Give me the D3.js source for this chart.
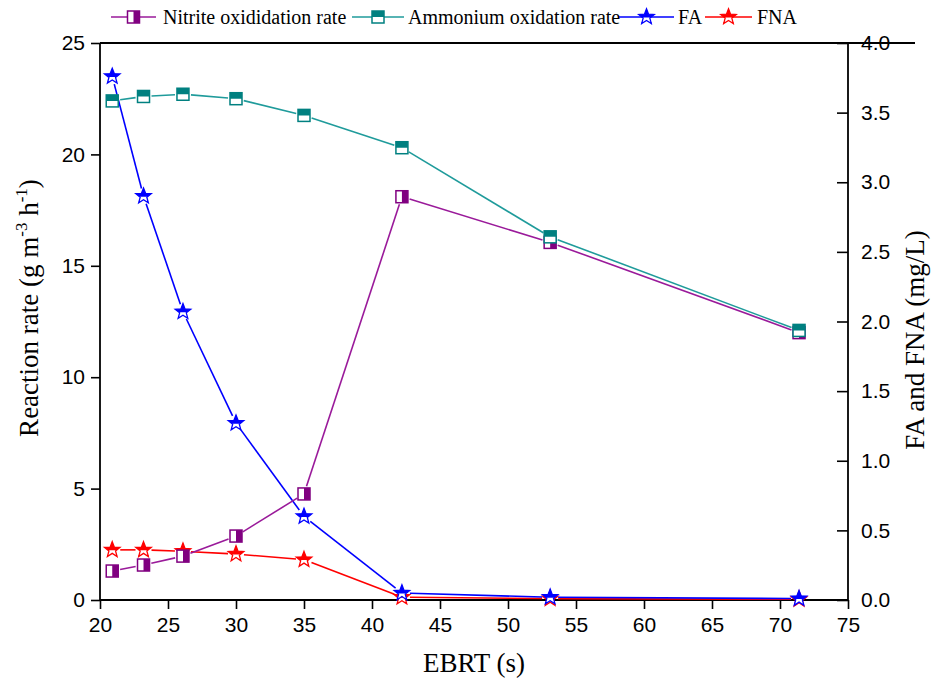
<!DOCTYPE html>
<html>
<head>
<meta charset="utf-8">
<script src="https://cdn.jsdelivr.net/npm/d3@7"></script>
<style>
  html, body { margin: 0; padding: 0; background: #fff; }
  svg { display: block; }
  .tick text { font-family: "Liberation Sans", Arial, sans-serif; font-size: 21px; fill: #000; }
  .serif { font-family: "Liberation Serif", "Times New Roman", serif; fill: #000; }
</style>
</head>
<body>
<svg id="chart" width="932" height="689"></svg>
<script>
// EBRT (s) for each sampling point
const ebrt = [20.9, 23.2, 26.1, 30.0, 35.0, 42.2, 53.1, 71.4];
// Reaction rates, g m-3 h-1 (left axis)
const nitriteRate = [1.3, 1.57, 1.97, 2.87, 4.76, 18.1, 16.05, 12.0];
const ammoniumRate = [22.4, 22.6, 22.7, 22.5, 21.75, 20.3, 16.3, 12.1];
// Free ammonia and free nitrous acid, mg/L (right axis)
const fa = [3.76, 2.90, 2.07, 1.27, 0.60, 0.05, 0.02, 0.01];
const fna = [0.36, 0.36, 0.35, 0.33, 0.29, 0.02, 0.01, 0.005];
// Axis ticks
const xTicks = [20, 25, 30, 35, 40, 45, 50, 55, 60, 65, 70, 75];
const yLeftTicks = [0, 5, 10, 15, 20, 25];
const yRightTicks = [0, 0.5, 1.0, 1.5, 2.0, 2.5, 3.0, 3.5, 4.0];
const legendLabels = ["Nitrite oxididation rate", "Ammonium oxidation rate", "FA", "FNA"];

const svg = d3.select("#chart");
const L = 100, R = 848, T = 43, B = 600;

const x = d3.scaleLinear().domain([20, 75]).range([L, R]);
const yL = d3.scaleLinear().domain([0, 25]).range([B, T]);
const yR = d3.scaleLinear().domain([0, 4]).range([B, T]);

// clip regions for half-filled markers
const defs = svg.append("defs");
defs.append("clipPath").attr("id", "clipTop")
  .append("rect").attr("x", -12).attr("y", -12).attr("width", 24).attr("height", 12);
defs.append("clipPath").attr("id", "clipRight")
  .append("rect").attr("x", 0).attr("y", -12).attr("width", 12).attr("height", 24);
defs.append("clipPath").attr("id", "clipStarTop")
  .append("rect").attr("x", -12).attr("y", -12).attr("width", 24).attr("height", 12.5);

// five-pointed star outline centred on the origin
function starPath(Ro, Ri) {
  const p = d3.path();
  for (let i = 0; i < 10; i++) {
    const r = i % 2 === 0 ? Ro : Ri;
    const a = -Math.PI / 2 + i * Math.PI / 5;
    const px = r * Math.cos(a), py = r * Math.sin(a);
    if (i === 0) p.moveTo(px, py); else p.lineTo(px, py);
  }
  p.closePath();
  return p.toString();
}
const STAR = starPath(8.2, 3.5);

function marker(g, kind, color) {
  if (kind === "squareRight" || kind === "squareTop") {
    g.append("rect").attr("x", -6).attr("y", -6).attr("width", 12).attr("height", 12)
      .attr("fill", "#fff");
    g.append("rect").attr("x", -6).attr("y", -6).attr("width", 12).attr("height", 12)
      .attr("fill", color)
      .attr("clip-path", kind === "squareRight" ? "url(#clipRight)" : "url(#clipTop)");
    g.append("rect").attr("x", -6).attr("y", -6).attr("width", 12).attr("height", 12)
      .attr("fill", "none").attr("stroke", color).attr("stroke-width", 1.5);
  } else {
    g.append("path").attr("d", STAR).attr("fill", "#fff");
    g.append("path").attr("d", STAR).attr("fill", color).attr("clip-path", "url(#clipStarTop)");
    g.append("path").attr("d", STAR).attr("fill", "none").attr("stroke", color)
      .attr("stroke-width", 1.3).attr("stroke-linejoin", "miter");
  }
}

// one series: segments broken around each marker, then the markers
function series(values, yScale, lineColor, markColor, kind, gap) {
  const pts = values.map((v, i) => [x(ebrt[i]), yScale(v)]);
  const g = svg.append("g");
  const line = d3.line();
  for (let i = 0; i < pts.length - 1; i++) {
    const [x0, y0] = pts[i], [x1, y1] = pts[i + 1];
    const len = Math.hypot(x1 - x0, y1 - y0);
    if (len <= 2 * gap) continue;
    const ux = (x1 - x0) / len, uy = (y1 - y0) / len;
    g.append("path")
      .attr("d", line([[x0 + ux * gap, y0 + uy * gap], [x1 - ux * gap, y1 - uy * gap]]))
      .attr("stroke", lineColor).attr("stroke-width", 1.6).attr("fill", "none");
  }
  pts.forEach(p => marker(g.append("g").attr("transform", `translate(${p[0]},${p[1]})`), kind, markColor));
}

// axes
const xAxis = d3.axisBottom(x).tickValues(xTicks).tickSize(9).tickPadding(8).tickFormat(d3.format("d"));
const yLAxis = d3.axisLeft(yL).tickValues(yLeftTicks).tickSize(9).tickPadding(6).tickFormat(d3.format("d"));
const yRAxis = d3.axisRight(yR).tickValues(yRightTicks).tickSize(-11).tickPadding(13).tickFormat(d3.format(".1f"));

function styleAxis(g) {
  g.select(".domain").remove();
  g.selectAll(".tick line").attr("stroke", "#000").attr("stroke-width", 1.6);
}
svg.append("g").attr("transform", `translate(0,${B})`).call(xAxis).call(styleAxis);
svg.append("g").attr("transform", `translate(${L},0)`).call(yLAxis).call(styleAxis);
svg.append("g").attr("transform", `translate(${R},0)`).call(yRAxis).call(styleAxis);

// frame lines
const frame = svg.append("g").attr("stroke", "#000").attr("stroke-width", 1.8);
frame.append("line").attr("x1", L).attr("x2", R).attr("y1", B).attr("y2", B);
frame.append("line").attr("x1", L).attr("x2", L).attr("y1", T).attr("y2", B);
frame.append("line").attr("x1", R).attr("x2", R).attr("y1", T).attr("y2", B);
frame.append("line").attr("x1", L).attr("x2", 915).attr("y1", T).attr("y2", T);

// data
series(fna, yR, "#ff0000", "#ff0000", "star", 8);
series(fa, yR, "#0000ff", "#0000ff", "star", 8);
series(nitriteRate, yL, "#9a1a9a", "#800080", "squareRight", 8);
series(ammoniumRate, yL, "#1f9b9b", "#008080", "squareTop", 8);

// axis titles
svg.append("text").attr("class", "serif").attr("x", (L + R) / 2).attr("y", 672)
  .attr("text-anchor", "middle").style("font-size", "27px").text("EBRT (s)");

const lt = svg.append("text").attr("class", "serif")
  .attr("transform", "translate(38,308) rotate(-90)")
  .attr("text-anchor", "middle").style("font-size", "27px");
lt.append("tspan").text("Reaction rate (g m");
lt.append("tspan").attr("dy", -11).style("font-size", "17px").text("-3");
lt.append("tspan").attr("dy", 11).text(" h");
lt.append("tspan").attr("dy", -11).style("font-size", "17px").text("-1");
lt.append("tspan").attr("dy", 11).text(")");

svg.append("text").attr("class", "serif")
  .attr("transform", "translate(924,340) rotate(-90)")
  .attr("text-anchor", "middle").style("font-size", "27px").text("FA and FNA (mg/L)");

// legend
const legendItems = [
  { label: legendLabels[0], line: "#9a1a9a", mark: "#800080", kind: "squareRight", x0: 111, x1: 156, tx: 163 },
  { label: legendLabels[1], line: "#1f9b9b", mark: "#008080", kind: "squareTop", x0: 352, x1: 404, tx: 408 },
  { label: legendLabels[2], line: "#0000ff", mark: "#0000ff", kind: "star", x0: 619, x1: 674, tx: 678 },
  { label: legendLabels[3], line: "#ff0000", mark: "#ff0000", kind: "star", x0: 705, x1: 752, tx: 757 }
];
const lg = svg.append("g");
const ly = 17;
legendItems.forEach(it => {
  lg.append("line").attr("x1", it.x0).attr("x2", it.x1).attr("y1", ly).attr("y2", ly)
    .attr("stroke", it.line).attr("stroke-width", 1.6);
  marker(lg.append("g").attr("transform", `translate(${(it.x0 + it.x1) / 2},${ly})`), it.kind, it.mark);
  lg.append("text").attr("class", "serif").attr("x", it.tx).attr("y", ly + 7)
    .style("font-size", "20px").text(it.label);
});
</script>
</body>
</html>
